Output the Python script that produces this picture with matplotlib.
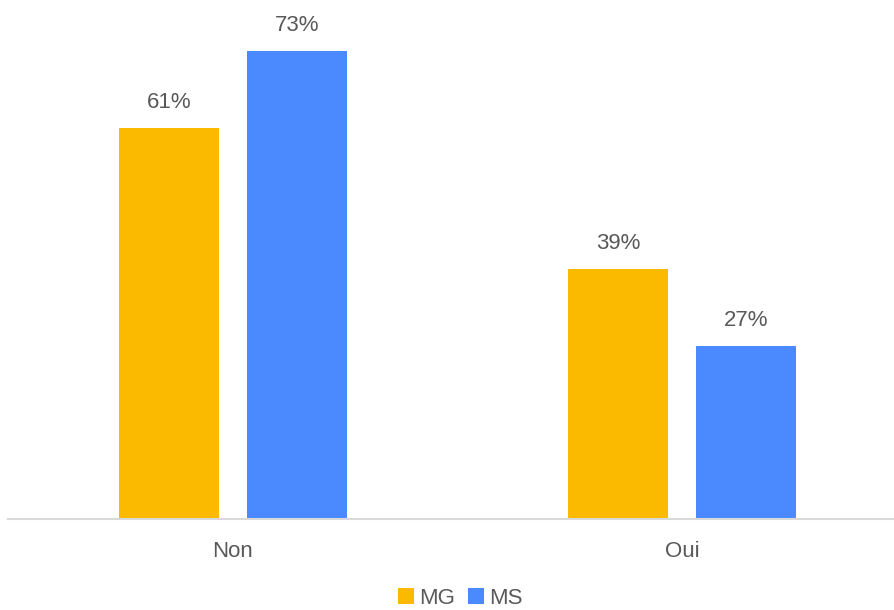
import matplotlib
matplotlib.use("Agg")
import matplotlib.pyplot as plt
import numpy as np

categories = ["Non", "Oui"]
series_names = ["MG", "MS"]
mg_values = [61, 39]
ms_values = [73, 27]
colors = ["#FBBA00", "#4A89FF"]

plt.rcParams['font.family'] = ['Liberation Sans', 'DejaVu Sans']

fig = plt.figure(figsize=(8.94, 6.10), dpi=100)
ax = fig.add_axes([8/894, 91/610, 886/894, 513/610])

x = np.arange(len(categories))
w = 0.2227
off = 0.1425
text_color = "#595959"
for vals, name, c, d in zip([mg_values, ms_values], series_names, colors, [-off, off]):
    bars = ax.bar(x + d, vals, width=w, color=c, label=name)
    for b, v in zip(bars, vals):
        ax.annotate(f"{v}%", (b.get_x() + b.get_width()/2, v), xytext=(0, 11),
                    textcoords="offset points", ha="center", va="bottom",
                    fontsize=16, color=text_color)

ax.set_xlim(-0.501, 1.472)
ax.set_ylim(0, 80)
ax.set_xticks(x)
ax.set_xticklabels(categories, fontsize=16, color=text_color)
ax.tick_params(axis='x', length=0, pad=16)
ax.set_yticks([])
for s in ["top", "right", "left"]:
    ax.spines[s].set_visible(False)
ax.spines["bottom"].set_color("#D9D9D9")
ax.spines["bottom"].set_linewidth(1.5)

leg = fig.legend(loc="lower center", bbox_to_anchor=(0.515, 0.002), ncol=2, frameon=False,
                 fontsize=16, handlelength=0.7, handleheight=0.7, handletextpad=0.25,
                 columnspacing=0.6, labelcolor=text_color, borderpad=0, borderaxespad=0)

fig.savefig("out.png", dpi=100)
